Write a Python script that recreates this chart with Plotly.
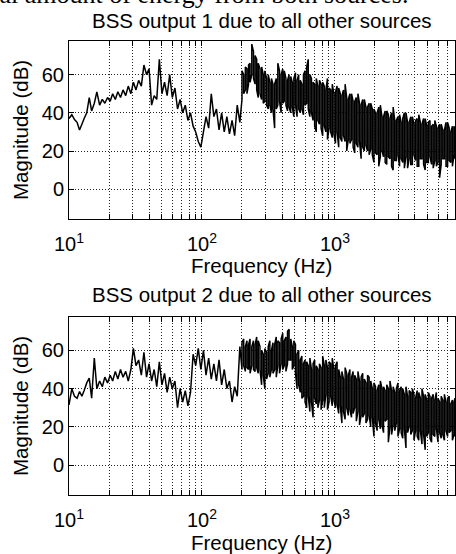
import plotly.graph_objects as go

# ---- data ----
# low band: one reading per frequency
freq_low = [
    10, 10.5, 11, 11.5, 12, 12.5, 13, 13.6, 14.2, 14.8,
    15.5, 16.2, 17, 17.8, 18.6, 19.5, 20.4, 21.3, 22.3, 23.3,
    24.4, 25.5, 26.7, 27.9, 29.2, 30.5, 31.9, 33.4, 35, 36.6,
    38.3, 40, 41.8, 43.7, 45.7, 47.8, 50, 52.3, 54.7, 57.2,
    59.8, 62.6, 65.5, 68.5, 71.6, 74.9, 78.4, 82, 85.8, 89.7,
    93.8, 98.1, 102.6, 107.3, 112.3, 117.5, 122.9, 128.5, 134.4, 140.6,
    147.1, 153.9, 161, 168.4, 176.1, 184.2, 192.7,
]
mag1_low = [
    37, 39, 36.5, 35, 31, 34, 37, 40, 48, 41,
    45, 51, 44, 47, 45, 48, 46, 50, 47, 51,
    48, 52, 49, 54, 50, 56, 52, 57, 54, 65,
    60, 63, 44, 49, 47, 68, 50, 56, 49, 60,
    48, 53, 42, 47, 40, 44, 36, 40, 33, 30,
    25, 22, 30, 38, 32, 50, 38, 42, 31, 40,
    30, 38, 29, 36, 28, 44, 35,
]
mag2_low = [
    31.5, 40, 36, 35, 38.5, 36, 39, 43, 45.5, 35,
    56, 40, 44, 41, 46, 43, 47, 44, 49, 45,
    50, 46, 49, 44, 50, 61, 52, 55, 47, 59,
    46, 53, 44, 50, 41, 54, 42, 48, 38, 46,
    40, 44, 30, 40, 33, 39, 31, 38, 58, 52,
    61, 50, 60, 47, 56, 45, 53, 44, 55, 42,
    50, 40, 44, 33, 41, 36, 62,
]

# dense band: lower and upper extent of the trace at each frequency
freq_high = [
    200, 206, 212, 218, 224, 230, 237, 244, 251, 258,
    265, 273, 281, 289, 297, 306, 315, 324, 333, 342,
    352, 362, 372, 383, 394, 405, 416, 428, 440, 452,
    465, 478, 491, 505, 519, 534, 549, 564, 580, 596,
    613, 630, 648, 666, 685, 704, 724, 744, 765, 787,
    809, 832, 855, 879, 904, 929, 955, 982, 1010, 1038,
    1067, 1097, 1128, 1160, 1193, 1226, 1261, 1296, 1333, 1370,
    1409, 1448, 1489, 1531, 1574, 1618, 1664, 1711, 1759, 1808,
    1859, 1911, 1965, 2020, 2077, 2136, 2196, 2258, 2321, 2386,
    2453, 2522, 2593, 2666, 2741, 2818, 2897, 2979, 3063, 3149,
    3237, 3328, 3422, 3518, 3617, 3719, 3823, 3931, 4041, 4155,
    4272, 4392, 4515, 4642, 4773, 4907, 5045, 5187, 5333, 5483,
    5637, 5795, 5958, 6126, 6298, 6475, 6657, 6845, 7037, 7235,
    7439, 7648, 7863, 8000,
]
mag1_hi = [
    62, 60, 64, 63, 65, 66, 76, 72, 70, 68,
    66, 63, 64, 60, 62, 58, 60, 56, 58, 55,
    55, 58, 66, 62, 60, 63, 62, 58, 57, 60,
    59, 56, 58, 61, 57, 60, 57, 55, 60, 62,
    64, 68, 60, 58, 56, 55, 58, 54, 57, 55,
    56, 54, 52, 58, 53, 52, 55, 50, 51, 54,
    53, 50, 49, 52, 55, 48, 47, 50, 50, 46,
    46, 48, 50, 45, 44, 47, 47, 43, 43, 45,
    45, 42, 42, 40, 40, 43, 44, 38, 38, 41,
    41, 39, 37, 40, 43, 36, 36, 38, 39, 35,
    37, 40, 40, 35, 35, 38, 38, 34, 36, 37,
    39, 35, 34, 37, 37, 33, 35, 36, 33, 34,
    36, 33, 32, 34, 34, 31, 31, 35, 35, 32,
    30, 33, 33, 31,
]
mag1_lo = [
    47, 50, 52, 50, 55, 56, 60, 58, 55, 52,
    48, 50, 47, 45, 46, 44, 42, 44, 40, 42,
    32, 42, 44, 46, 40, 45, 46, 44, 41, 43,
    40, 43, 38, 44, 38, 42, 40, 42, 39, 44,
    45, 42, 38, 40, 36, 33, 30, 36, 34, 32,
    28, 33, 30, 26, 32, 30, 27, 29, 24, 30,
    22, 27, 25, 28, 25, 20, 26, 24, 26, 22,
    19, 24, 22, 25, 16, 22, 20, 23, 20, 18,
    21, 18, 14, 19, 18, 12, 17, 20, 17, 14,
    13, 17, 16, 12, 10, 15, 15, 18, 12, 16,
    14, 11, 17, 11, 16, 13, 13, 18, 15, 12,
    12, 16, 16, 13, 10, 14, 14, 17, 13, 11,
    15, 12, 14, 6, 13, 16, 16, 12, 12, 15,
    14, 12, 18, 16,
]
mag2_hi = [
    64, 66, 62, 65, 63, 66, 62, 65, 63, 67,
    65, 62, 60, 58, 61, 59, 62, 65, 60, 64,
    63, 67, 65, 64, 66, 69, 65, 67, 70, 71,
    66, 62, 65, 63, 58, 60, 55, 57, 53, 55,
    54, 52, 56, 50, 53, 55, 52, 50, 53, 51,
    57, 52, 55, 51, 54, 53, 56, 50, 52, 54,
    50, 46, 49, 45, 51, 48, 47, 50, 46, 49,
    47, 45, 49, 44, 46, 48, 45, 43, 47, 46,
    44, 40, 43, 41, 39, 42, 44, 40, 41, 39,
    42, 40, 44, 39, 41, 38, 40, 43, 39, 41,
    40, 37, 41, 36, 39, 38, 40, 37, 35, 39,
    38, 35, 40, 36, 37, 34, 38, 36, 35, 37,
    34, 38, 35, 33, 36, 34, 37, 33, 35, 36,
    32, 34, 33, 35,
]
mag2_lo = [
    50, 52, 49, 51, 50, 48, 52, 50, 49, 51,
    48, 50, 42, 47, 40, 45, 48, 46, 50, 48,
    50, 46, 52, 48, 53, 50, 52, 49, 53, 55,
    55, 50, 52, 48, 40, 42, 38, 35, 36, 33,
    30, 36, 28, 33, 25, 35, 32, 30, 34, 29,
    34, 30, 37, 29, 33, 36, 31, 34, 30, 32,
    27, 31, 22, 28, 24, 30, 26, 29, 25, 27,
    30, 23, 28, 21, 26, 25, 27, 22, 24, 26,
    20, 25, 15, 22, 18, 24, 19, 21, 17, 23,
    24, 12, 20, 16, 21, 18, 22, 15, 19, 17,
    14, 19, 9, 17, 20, 16, 18, 13, 18, 15,
    13, 18, 11, 16, 8, 15, 17, 14, 12, 16,
    15, 19, 12, 17, 14, 16, 13, 18, 15, 17,
    18, 13, 16, 15,
]

titles = ["BSS output 1 due to all other sources", "BSS output 2 due to all other sources"]
x_label = "Frequency (Hz)"
y_label = "Magnitude (dB)"
x_major = [10, 100, 1000]
x_major_text = ["10<sup>1</sup>", "10<sup>2</sup>", "10<sup>3</sup>"]
x_minor = [20, 30, 40, 50, 60, 70, 80, 90,
           200, 300, 400, 500, 600, 700, 800, 900,
           2000, 3000, 4000, 5000, 6000, 7000]
y_ticks = [0, 20, 40, 60]
caption = "equal amount of energy from both sources."

assert len(freq_low) == len(mag1_low) == len(mag2_low)
assert len(freq_high) == len(mag1_hi) == len(mag1_lo) == len(mag2_hi) == len(mag2_lo)


def build(mag_low, lo, hi):
    xs = list(freq_low)
    ys = list(mag_low)
    for i, f in enumerate(freq_high):
        pair = (lo[i], hi[i]) if i % 2 == 0 else (hi[i], lo[i])
        xs += [f, f]
        ys += list(pair)
    return xs, ys


series = [build(mag1_low, mag1_lo, mag1_hi), build(mag2_low, mag2_lo, mag2_hi)]

# ---- layout ----
W, H = 456, 554
FONT = "Liberation Sans, Arial, Helvetica, sans-serif"
FS = 20.5


def fx(p):
    return p / W


def fy(p):
    return 1 - p / H


fig = go.Figure()
for i, (xs, ys) in enumerate(series):
    fig.add_trace(go.Scatter(
        x=xs, y=ys, mode="lines",
        line=dict(color="black", width=1.5, simplify=False),
        xaxis="x" if i == 0 else "x2",
        yaxis="y" if i == 0 else "y2",
        hoverinfo="skip",
    ))

xdom = [fx(69), fx(455)]
ydoms = [[fy(219), fy(41)], [fy(495), fy(316.7)]]

grid_dash = "1px,2px"
xcommon = dict(
    type="log", range=[1, 3.903], domain=xdom, automargin=False,
    tickmode="array", tickvals=x_major, ticktext=x_major_text,
    ticks="inside", ticklen=5, tickcolor="black",
    showline=True, linecolor="black", linewidth=1, mirror="allticks",
    showgrid=True, gridcolor="#222", gridwidth=1, griddash=grid_dash,
    zeroline=False, ticklabelstandoff=7,
    tickfont=dict(family=FONT, size=20, color="black"),
    minor=dict(tickmode="array", tickvals=x_minor, ticks="inside", ticklen=5,
               tickcolor="black", showgrid=True, gridcolor="#222",
               gridwidth=1, griddash=grid_dash),
)
ycommon = dict(
    range=[-15.6, 77.6], automargin=False,
    tickmode="array", tickvals=y_ticks,
    ticks="inside", ticklen=5, tickcolor="black",
    showline=True, linecolor="black", linewidth=1, mirror="allticks",
    showgrid=True, gridcolor="#222", gridwidth=1, griddash=grid_dash,
    zeroline=False,
    tickfont=dict(family=FONT, size=20, color="black"),
    ticklabelstandoff=0,
)

fig.update_layout(
    width=W, height=H,
    margin=dict(l=0, r=0, t=0, b=0, pad=0),
    paper_bgcolor="white", plot_bgcolor="white",
    showlegend=False,
    xaxis=dict(xcommon, anchor="y"),
    yaxis=dict(ycommon, domain=ydoms[0], anchor="x"),
    xaxis2=dict(xcommon, anchor="y2"),
    yaxis2=dict(ycommon, domain=ydoms[1], anchor="x2"),
)

ann = []
title_y = [21, 294.5]
xlab_y = [266, 542]
ylab_y = [130, 406]
for i in range(2):
    ann.append(dict(text=titles[i], x=fx(262), y=fy(title_y[i]), xref="paper", yref="paper",
                    xanchor="center", yanchor="middle", showarrow=False,
                    font=dict(family=FONT, size=FS, color="black")))
    ann.append(dict(text=x_label, x=fx(261), y=fy(xlab_y[i]), xref="paper", yref="paper",
                    xanchor="center", yanchor="middle", showarrow=False,
                    font=dict(family=FONT, size=FS, color="black")))
    ann.append(dict(text=y_label, x=fx(20), y=fy(ylab_y[i]), xref="paper", yref="paper",
                    xanchor="center", yanchor="middle", textangle=-90, showarrow=False,
                    font=dict(family=FONT, size=FS, color="black")))
ann.append(dict(text=caption, x=fx(410), y=fy(11.5), xref="paper", yref="paper",
                xanchor="right", yanchor="bottom", showarrow=False,
                font=dict(family="Liberation Serif, Times New Roman, serif", size=26, color="black")))
fig.update_layout(annotations=ann)

fig.write_html("out.html")
